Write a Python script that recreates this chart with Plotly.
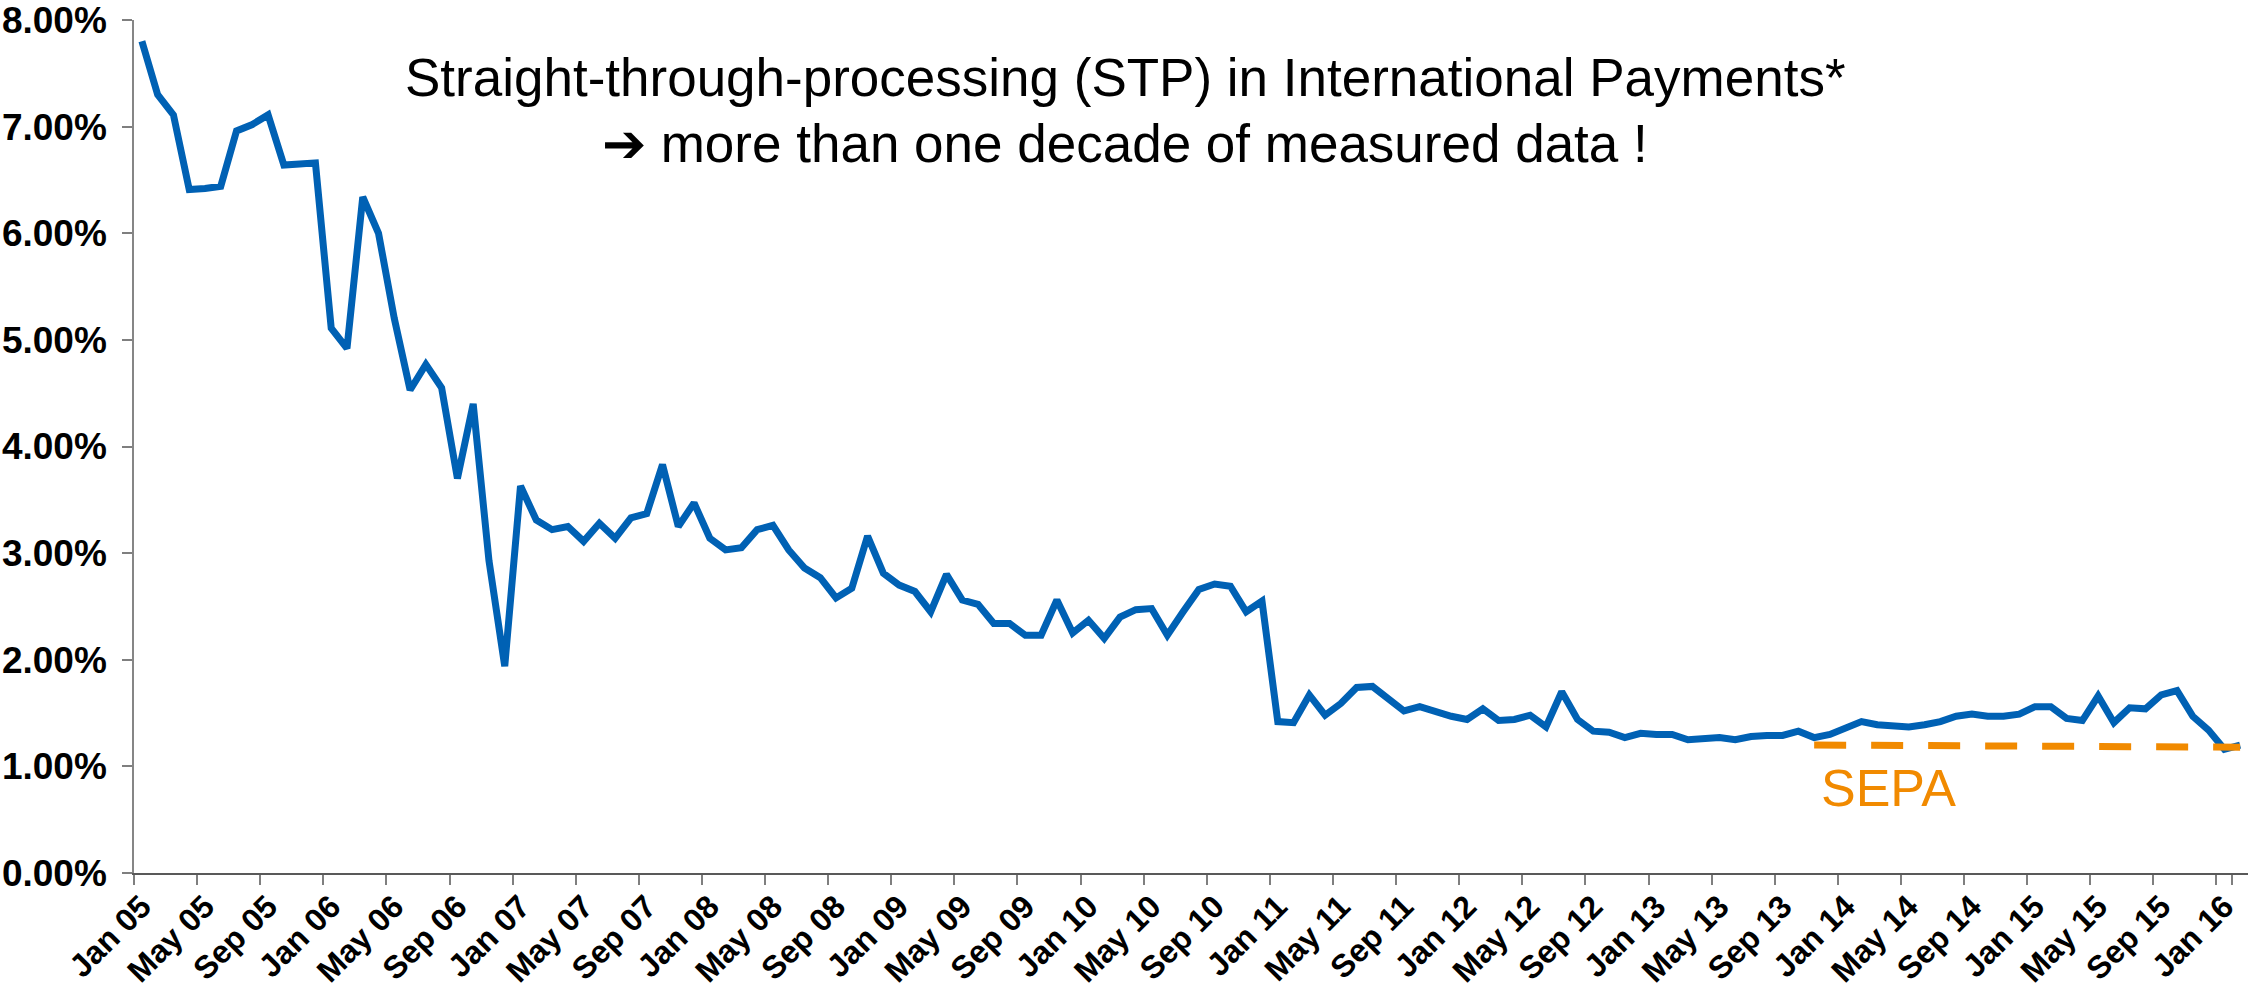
import plotly.graph_objects as go

# ---- data -------------------------------------------------------------
month_names = ["Jan", "Feb", "Mar", "Apr", "May", "Jun",
               "Jul", "Aug", "Sep", "Oct", "Nov", "Dec"]
years = ["05", "06", "07", "08", "09", "10", "11", "12", "13", "14", "15", "16"]

stp_2005 = [7.80, 7.30, 7.11, 6.41, 6.42, 6.44, 6.96, 7.02, 7.11, 6.64, 6.65, 6.66]
stp_2006 = [5.11, 4.92, 6.34, 6.00, 5.20, 4.53, 4.77, 4.55, 3.70, 4.40, 2.93, 1.94]
stp_2007 = [3.63, 3.31, 3.22, 3.25, 3.11, 3.28, 3.14, 3.33, 3.37, 3.83, 3.25, 3.47]
stp_2008 = [3.14, 3.03, 3.05, 3.22, 3.26, 3.03, 2.86, 2.77, 2.58, 2.67, 3.16, 2.81]
stp_2009 = [2.70, 2.64, 2.45, 2.80, 2.56, 2.52, 2.34, 2.34, 2.23, 2.23, 2.56, 2.25]
stp_2010 = [2.37, 2.20, 2.40, 2.47, 2.48, 2.23, 2.45, 2.66, 2.71, 2.69, 2.45, 2.55]
stp_2011 = [1.42, 1.41, 1.67, 1.48, 1.59, 1.74, 1.75, 1.64, 1.52, 1.56, 1.51, 1.47]
stp_2012 = [1.44, 1.54, 1.43, 1.44, 1.48, 1.37, 1.70, 1.44, 1.33, 1.32, 1.27, 1.31]
stp_2013 = [1.30, 1.30, 1.25, 1.26, 1.27, 1.25, 1.28, 1.29, 1.29, 1.33, 1.27, 1.30]
stp_2014 = [1.36, 1.42, 1.39, 1.38, 1.37, 1.39, 1.42, 1.47, 1.49, 1.47, 1.47, 1.49]
stp_2015 = [1.56, 1.56, 1.45, 1.43, 1.66, 1.41, 1.55, 1.54, 1.67, 1.71, 1.47, 1.34]
stp_2016 = [1.16, 1.20]

sepa_months = ["Nov 13", "Feb 16"]
sepa_values = [1.20, 1.18]

title_line1 = "Straight-through-processing (STP) in International Payments*"
title_line2 = "\u2794 more than one decade of measured data !"
sepa_label = "SEPA"

# ---- build ------------------------------------------------------------
stp_values = (stp_2005 + stp_2006 + stp_2007 + stp_2008 + stp_2009 + stp_2010
              + stp_2011 + stp_2012 + stp_2013 + stp_2014 + stp_2015 + stp_2016)
months = [f"{m} {y}" for y in years for m in month_names][:len(stp_values)]
tick_labels = months[::4]

BLUE = "#0061B4"
ORANGE = "#F18A00"
FONT = "Liberation Sans, Arial, sans-serif"

fig = go.Figure()
fig.add_trace(go.Scatter(
    x=months, y=stp_values, mode="lines",
    line=dict(color=BLUE, width=7), showlegend=False, hoverinfo="x+y"))
fig.add_trace(go.Scatter(
    x=sepa_months, y=sepa_values, mode="lines",
    line=dict(color=ORANGE, width=7, dash="32px,25px"), showlegend=False))

fig.update_layout(
    width=2257, height=988,
    margin=dict(l=134, r=9, t=20, b=115),
    plot_bgcolor="white", paper_bgcolor="white",
    font=dict(family=FONT, color="black"),
    xaxis=dict(
        type="category", categoryorder="array", categoryarray=months,
        range=[-0.5, len(months) - 0.5], automargin=False,
        ticklabeloverflow="allow",
        tickmode="array", tickvals=tick_labels, ticktext=tick_labels,
        tickson="boundaries", ticks="outside", ticklen=10, tickwidth=1.5,
        tickcolor="#7f7f7f", showline=True, linecolor="#595959", linewidth=2,
        tickangle=-45, tickfont=dict(size=32, weight="bold", family=FONT),
        showgrid=False, zeroline=False),
    yaxis=dict(
        range=[0, 8], dtick=1, tick0=0, tickformat=".2f", ticksuffix="%",
        automargin=False, ticklabeloverflow="allow",
        ticks="outside", ticklen=10, tickwidth=1.5, tickcolor="#7f7f7f",
        showline=True, linecolor="#868686", linewidth=1.5,
        tickfont=dict(size=37, weight="bold", family=FONT),
        ticklabelstandoff=8,
        showgrid=False, zeroline=False),
)

fig.add_annotation(xref="paper", yref="paper", x=0.469, y=0.9326,
                   text=title_line1, showarrow=False, xanchor="center",
                   yanchor="middle", font=dict(size=53, family=FONT, color="black"))
fig.add_annotation(xref="paper", yref="paper", x=0.469, y=0.8552,
                   text=title_line2, showarrow=False, xanchor="center",
                   yanchor="middle", font=dict(size=53, family=FONT, color="black"))
fig.add_annotation(xref="x", yref="y", x=106.3, y=0.80,
                   text=sepa_label, showarrow=False, xanchor="left",
                   yanchor="middle", font=dict(size=52, family=FONT, color=ORANGE))

fig.write_html("out.html", config={"displayModeBar": False},
               post_script="document.body.style.margin='0px';")
